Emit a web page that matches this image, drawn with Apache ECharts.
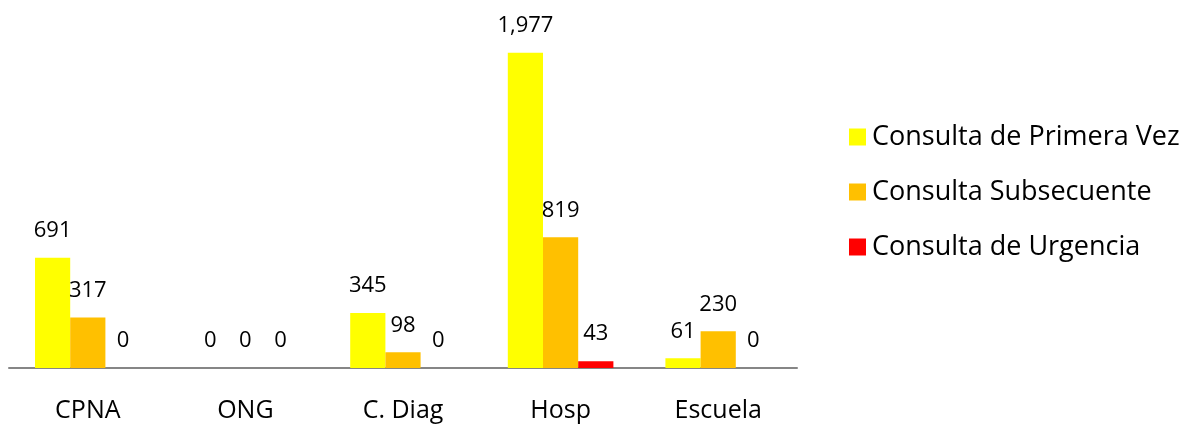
<!DOCTYPE html>
<html>
<head>
<meta charset="utf-8">
<script src="https://cdn.jsdelivr.net/npm/echarts@6/dist/echarts.min.js"></script>
<style>
html,body{margin:0;padding:0;background:#fff;}
#c{width:1199px;height:427px;}
</style>
</head>
<body>
<div id="c"></div>
<script>
const categories = ['CPNA', 'ONG', 'C. Diag', 'Hosp', 'Escuela'];
const seriesNames = ['Consulta de Primera Vez', 'Consulta Subsecuente', 'Consulta de Urgencia'];
const primeraVez = [691, 0, 345, 1977, 61];
const subsecuente = [317, 0, 98, 819, 230];
const urgencia = [0, 0, 0, 43, 0];
const colors = ['#FFFF00', '#FFC000', '#FF0000'];

const FONT = '"Open Sans", sans-serif';
const chart = echarts.init(document.getElementById('c'));
const mk = (name, data, color) => ({
  name, type: 'bar', data,
  itemStyle: { color },
  barGap: '0%', barCategoryGap: '33%',
  label: {
    show: true, position: 'top', distance: 16,
    color: '#000', fontFamily: FONT, fontSize: 22,
    formatter: p => Number(p.value).toLocaleString('en-US')
  }
});
chart.setOption({
  animation: false,
  textStyle: { fontFamily: FONT },
  grid: { left: 9, right: 402, top: 49, bottom: 59, containLabel: false },
  legend: {
    orient: 'vertical', left: 844, top: 118,
    itemWidth: 17, itemHeight: 17, itemGap: 27,
    icon: 'rect',
    textStyle: { fontFamily: FONT, fontSize: 27, lineHeight: 28, color: '#000', padding: [0,0,0,1] },
    data: seriesNames
  },
  xAxis: {
    type: 'category', data: categories,
    axisLine: { lineStyle: { color: '#868686', width: 2 } },
    axisTick: { show: false },
    axisLabel: { color: '#000', fontFamily: FONT, fontSize: 25, margin: 30 }
  },
  yAxis: { type: 'value', min: 0, max: 2000, show: false, splitLine: { show: false } },
  series: [
    mk(seriesNames[0], primeraVez, colors[0]),
    mk(seriesNames[1], subsecuente, colors[1]),
    mk(seriesNames[2], urgencia, colors[2])
  ]
});
</script>
</body>
</html>
